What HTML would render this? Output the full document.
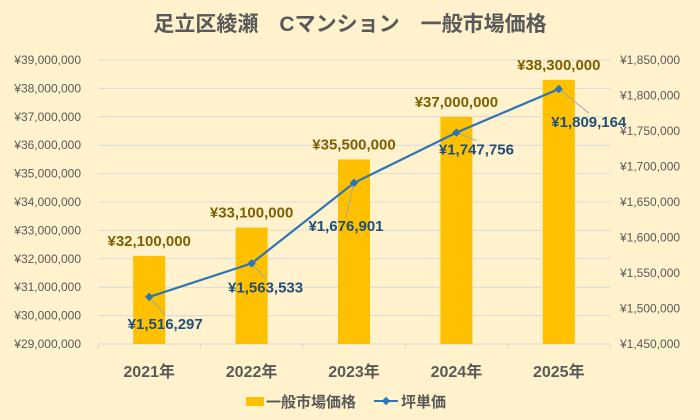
<!DOCTYPE html>
<html><head><meta charset="utf-8"><style>
body{margin:0;background:#FFF2CC;}
svg{display:block;font-family:"Liberation Sans","Noto Sans CJK JP",sans-serif;}
</style></head><body>
<svg id="c" width="700" height="420">
<rect width="700" height="420" fill="#FFF2CC"/>
<text x="350" y="31" text-anchor="middle" font-size="21" font-weight="bold" fill="#595959">足立区綾瀬　Cマンション　一般市場価格</text>
</svg>
<script>
const categories=["2021年","2022年","2023年","2024年","2025年"];
const marketPrice=[32100000,33100000,35500000,37000000,38300000];
const unitPrice=[1516297,1563533,1676901,1747756,1809164];
const leftTicks=[29000000,30000000,31000000,32000000,33000000,34000000,35000000,36000000,37000000,38000000,39000000];
const rightTicks=[1450000,1500000,1550000,1600000,1650000,1700000,1750000,1800000,1850000];
const labelOffsets=[[16,32],[14,29],[-8,48],[20,22],[30,38]];
const svg=document.getElementById('c');const NS='http://www.w3.org/2000/svg';
const L=98,R=610,T=60,B=344;
const yL=v=>B-(v-29000000)/(10000000)*(B-T);
const yR=v=>B-(v-1450000)/(400000)*(B-T);
const bw=(R-L)/categories.length;
const xC=i=>L+bw*(i+0.5);
function el(t,a,txt){const e=document.createElementNS(NS,t);for(const k in a)e.setAttribute(k,a[k]);if(txt!=null)e.textContent=txt;svg.appendChild(e);return e;}
const fmt=v=>'¥'+v.toLocaleString('en-US');
leftTicks.forEach(v=>{
 const y=yL(v);
 if(v>29000000){const g=el('line',{x1:L,x2:R,y1:y,y2:y,stroke:'#D9D9D9','stroke-width':1});
 
 }
 const t=el('text',{x:81,y:y+4,'text-anchor':'end','font-size':12,fill:'#595959'},fmt(v));
 
 
});
rightTicks.forEach(v=>{
 const t=el('text',{x:620,y:yR(v)+4,'font-size':12,fill:'#595959'},fmt(v));
 
 
});
const ax=el('line',{x1:L,x2:R,y1:B,y2:B,stroke:'#D9D9D9'});


for(let i=0;i<=categories.length;i++){const tk=el('line',{x1:L+bw*i,x2:L+bw*i,y1:B,y2:B+5,stroke:'#D9D9D9'});
 
 }
categories.forEach((c,i)=>{
 const t=el('text',{x:xC(i),y:377,'text-anchor':'middle','font-size':16,'font-weight':'bold',fill:'#595959'},c);
 
 
});
marketPrice.forEach((v,i)=>{
 const y=yL(v);
 const r=el('rect',{x:xC(i)-16,y:y,width:32,height:B-y,fill:'#FFC000'});
 
 
 const t=el('text',{x:xC(i),y:y-10,'text-anchor':'middle','font-size':15,'font-weight':'bold',fill:'#7F6000'},fmt(v));
 
 
});
const pts=unitPrice.map((v,i)=>[xC(i),yR(v)]);
unitPrice.forEach((v,i)=>{
 const [px,py]=pts[i];const lx=px+labelOffsets[i][0],ly=py+labelOffsets[i][1];
 const ln=el('line',{x1:px,y1:py,x2:lx,y2:ly-14,stroke:'#A6A6A6','stroke-width':1});
 
 
 const t=el('text',{x:lx,y:ly,'text-anchor':'middle','font-size':15,'font-weight':'bold',fill:'#1F4E79'},fmt(v));
 
 
});
const pl=el('polyline',{points:pts.map(p=>p.join(',')).join(' '),fill:'none',stroke:'#2E75B6','stroke-width':2.2});


pts.forEach(p=>{const m=el('rect',{x:p[0]-3,y:p[1]-3,width:6,height:6,fill:'#2E75B6',transform:`rotate(45 ${p[0]} ${p[1]})`});
 
 });
const lb=el('rect',{x:246,y:397,width:18,height:9,fill:'#FFC000'});


const lt=el('text',{x:266,y:407,'font-size':15,'font-weight':'bold',fill:'#595959'},'一般市場価格');


const ll=el('line',{x1:374,x2:398,y1:401,y2:401,stroke:'#2E75B6','stroke-width':2});


const lm=el('rect',{x:383,y:398,width:6,height:6,fill:'#2E75B6',transform:'rotate(45 386 401)'});


const lt2=el('text',{x:401,y:407,'font-size':15,'font-weight':'bold',fill:'#595959'},'坪単価');


</script>
</body></html>
